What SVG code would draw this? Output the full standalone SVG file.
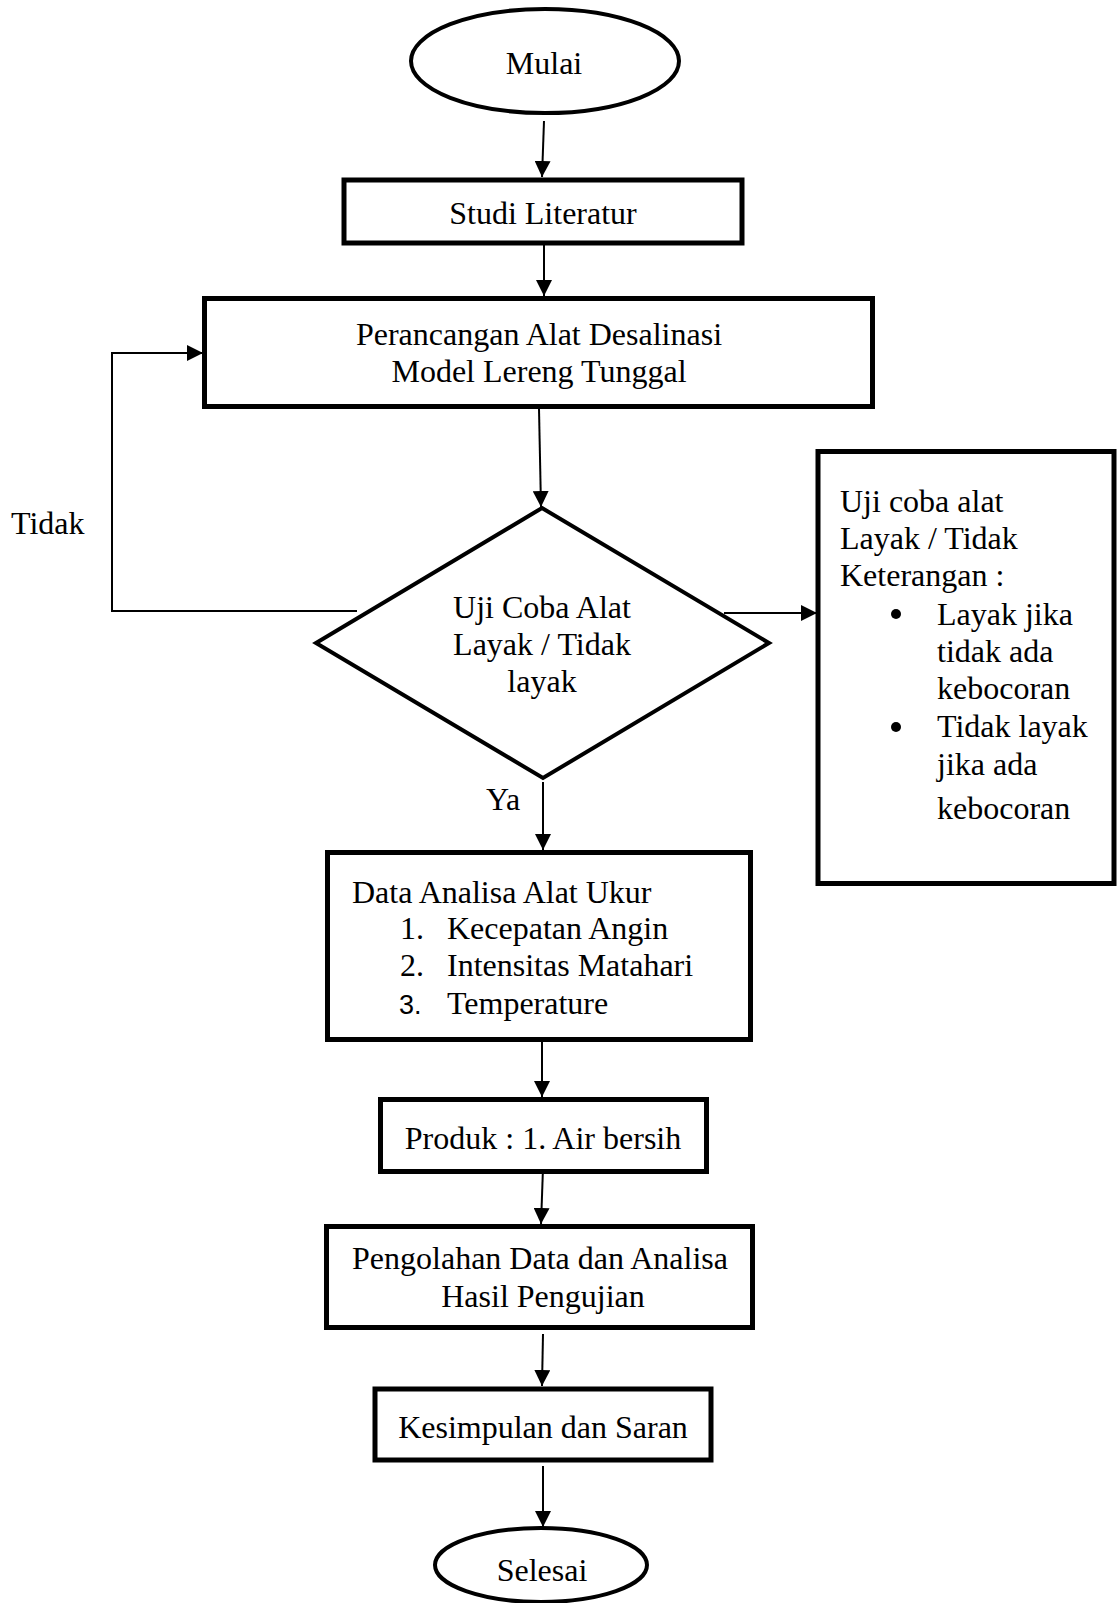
<svg xmlns="http://www.w3.org/2000/svg" width="1118" height="1603" viewBox="0 0 1118 1603">
<defs>
<style>
.t{font-family:"Liberation Serif","Times New Roman",serif;font-size:32px;fill:#000}
.c{text-anchor:middle}
.box{fill:#fff;stroke:#000;stroke-width:5}
.shp{fill:#fff;stroke:#000;stroke-width:4}
.ln{fill:none;stroke:#000;stroke-width:2}
</style>
<marker id="ah" markerUnits="userSpaceOnUse" markerWidth="16" markerHeight="16" refX="16" refY="8" orient="auto" viewBox="0 0 16 16">
<path d="M0,0 L16,8 L0,16 Z" fill="#000"/>
</marker>
</defs>
<rect width="1118" height="1603" fill="#fff"/>
<g id="connectors">
<path class="ln" d="M544,121 L542,177" marker-end="url(#ah)"/>
<path class="ln" d="M544,245 L544,296" marker-end="url(#ah)"/>
<path class="ln" d="M539,409 L541,507" marker-end="url(#ah)"/>
<path class="ln" d="M543,782 L543,850" marker-end="url(#ah)"/>
<path class="ln" d="M542,1041 L542,1097" marker-end="url(#ah)"/>
<path class="ln" d="M543,1168 L541,1224" marker-end="url(#ah)"/>
<path class="ln" d="M543,1334 L542,1386" marker-end="url(#ah)"/>
<path class="ln" d="M543,1466 L543,1527" marker-end="url(#ah)"/>
<path class="ln" d="M357,611 L112,611 L112,353 L203,353" marker-end="url(#ah)"/>
<path class="ln" d="M724,613 L817,613" marker-end="url(#ah)"/>
<text class="t" x="11" y="534" font-size="30">Tidak</text>
<text class="t" x="486" y="810">Ya</text>
</g>
<g id="mulai">
<ellipse class="shp" cx="545" cy="61" rx="134" ry="52"/>
<text class="t c" x="544" y="74">Mulai</text>
</g>
<g id="studi">
<rect class="box" x="344" y="180" width="398" height="63"/>
<text class="t c" x="543" y="224">Studi Literatur</text>
</g>
<g id="perancangan">
<rect class="box" x="204.5" y="298.5" width="668" height="108"/>
<text class="t c" x="539" y="345">Perancangan Alat Desalinasi</text>
<text class="t c" x="539" y="382">Model Lereng Tunggal</text>
</g>
<g id="ujicoba">
<polygon class="shp" points="542,508 769,643 543,778 316,643"/>
<text class="t c" x="542" y="618">Uji Coba Alat</text>
<text class="t c" x="542" y="655">Layak / Tidak</text>
<text class="t c" x="542" y="692">layak</text>
</g>
<g id="keterangan">
<rect class="box" x="818" y="451.5" width="296" height="432"/>
<text class="t" x="840" y="512">Uji coba alat</text>
<text class="t" x="840" y="549">Layak / Tidak</text>
<text class="t" x="840" y="586">Keterangan :</text>
<circle cx="896" cy="614" r="5" fill="#000"/>
<text class="t" x="937" y="625">Layak jika</text>
<text class="t" x="937" y="662">tidak ada</text>
<text class="t" x="937" y="699">kebocoran</text>
<circle cx="896" cy="727" r="5" fill="#000"/>
<text class="t" x="937" y="737">Tidak layak</text>
<text class="t" x="937" y="775">jika ada</text>
<text class="t" x="937" y="819">kebocoran</text>
</g>
<g id="data">
<rect class="box" x="327.5" y="852.5" width="423" height="187"/>
<text class="t" x="352" y="903">Data Analisa Alat Ukur</text>
<text class="t" x="400" y="939">1.</text>
<text class="t" x="447" y="939">Kecepatan Angin</text>
<text class="t" x="400" y="976">2.</text>
<text class="t" x="447" y="976">Intensitas Matahari</text>
<text x="399" y="1014" font-family="Liberation Sans, Arial, sans-serif" font-size="27">3.</text>
<text class="t" x="447" y="1014">Temperature</text>
</g>
<g id="produk">
<rect class="box" x="380.5" y="1099.5" width="326" height="72"/>
<text class="t c" x="543" y="1149">Produk : 1. Air bersih</text>
</g>
<g id="pengolahan">
<rect class="box" x="326.5" y="1226.5" width="426" height="101"/>
<text class="t c" x="540" y="1269">Pengolahan Data dan Analisa</text>
<text class="t c" x="543" y="1307">Hasil Pengujian</text>
</g>
<g id="kesimpulan">
<rect class="box" x="375" y="1389" width="336" height="71"/>
<text class="t c" x="543" y="1438">Kesimpulan dan Saran</text>
</g>
<g id="selesai">
<ellipse class="shp" cx="541" cy="1565" rx="106" ry="37"/>
<text class="t c" x="542" y="1581">Selesai</text>
</g>
</svg>
